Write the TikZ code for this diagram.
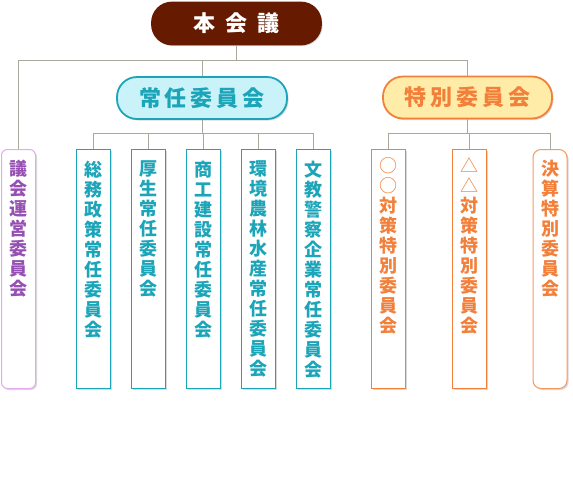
\documentclass[tikz,border=0pt]{standalone}
\usepackage{fontspec}
\newfontfamily\jp{Noto Sans CJK JP}
\usepackage{xcolor}
\usetikzlibrary{positioning, shadows}

\definecolor{honbrown}{RGB}{102,26,0}
\definecolor{linegray}{RGB}{170,168,155}
\definecolor{joninteal}{RGB}{28,165,185}
\definecolor{joninfill}{RGB}{202,242,249}
\definecolor{tokuorange}{RGB}{242,128,58}
\definecolor{tokufill}{RGB}{255,236,168}
\definecolor{giunpurple}{RGB}{150,80,180}
\definecolor{giunpink}{RGB}{226,172,236}

\tikzset{
  line/.style={draw=linegray, line width=0.9pt},
  pill/.style={rounded corners=20pt, line width=1.8pt, minimum height=42pt, minimum width=169pt, inner sep=0pt,
    font=\jp\bfseries\fontsize{22}{24}\selectfont,
    drop shadow={shadow xshift=1.5pt, shadow yshift=-1.5pt, opacity=0.15, fill=black}},
  tatebox/.style={draw, line width=1pt, fill=white, minimum width=34pt, minimum height=239pt, inner sep=0pt,
    drop shadow={shadow xshift=1.5pt, shadow yshift=-1.5pt, opacity=0.15, fill=black}},
  tatetext/.style={inner sep=0pt, align=center, font=\jp\bfseries\fontsize{18}{20}\selectfont},
}

\begin{document}
\begin{tikzpicture}[x=1pt, y=-1pt]

% marco de la figura
\useasboundingbox (0,0) rectangle (573,483);

% nodo superior y comites
\node[pill, fill=honbrown, draw=honbrown, text=white] (hon) at (236.5,23.5) {本\hspace{10pt}会\hspace{10pt}議};
\node[pill, fill=joninfill, draw=joninteal, text=joninteal, minimum width=170pt] (jonin) at (202,98) {常\hspace{4pt}任\hspace{4pt}委\hspace{4pt}員\hspace{4pt}会};
\node[pill, fill=tokufill, draw=tokuorange, text=tokuorange] (toku) at (467.5,97.5) {特\hspace{4pt}別\hspace{4pt}委\hspace{4pt}員\hspace{4pt}会};

% cajas verticales
\node[tatebox, draw=giunpink, rounded corners=6pt] (giun) at (18.5,269) {};
\node[tatebox, draw=joninteal] (j1) at (93,268.5) {};
\node[tatebox, draw=joninteal] (j2) at (148,268.5) {};
\node[tatebox, draw=joninteal] (j3) at (203,268.5) {};
\node[tatebox, draw=joninteal] (j4) at (258,268.5) {};
\node[tatebox, draw=joninteal] (j5) at (313,268.5) {};
\node[tatebox, draw=tokuorange] (t1) at (388.5,268.5) {};
\node[tatebox, draw=tokuorange] (t2) at (469.5,268.5) {};
\node[tatebox, draw=tokuorange!80, rounded corners=8pt] (t3) at (550,269) {};

% textos verticales
\node[tatetext, text=giunpurple, below=11pt of giun.north] (giuntxt) {議\\会\\運\\営\\委\\員\\会};
\node[tatetext, text=joninteal, below=12pt of j1.north] (j1txt) {総\\務\\政\\策\\常\\任\\委\\員\\会};
\node[tatetext, text=joninteal, below=12pt of j2.north] (j2txt) {厚\\生\\常\\任\\委\\員\\会};
\node[tatetext, text=joninteal, below=12pt of j3.north] (j3txt) {商\\工\\建\\設\\常\\任\\委\\員\\会};
\node[tatetext, text=joninteal, below=12pt of j4.north] (j4txt) {環\\境\\農\\林\\水\\産\\常\\任\\委\\員\\会};
\node[tatetext, text=joninteal, below=12pt of j5.north] (j5txt) {文\\教\\警\\察\\企\\業\\常\\任\\委\\員\\会};
\node[tatetext, text=tokuorange, below=9pt of t1.north] (t1txt) {{\mdseries ○}\\{\mdseries ○}\\対\\策\\特\\別\\委\\員\\会};
\node[tatetext, text=tokuorange, below=9pt of t2.north] (t2txt) {{\mdseries △}\\{\mdseries △}\\対\\策\\特\\別\\委\\員\\会};
\node[tatetext, text=tokuorange, below=11pt of t3.north] (t3txt) {決\\算\\特\\別\\委\\員\\会};

% lineas
\coordinate (bus) at (0,60);
\coordinate (bus2) at (0,133);
\draw[line] (hon.south) -- (hon.south |- bus);
\draw[line] (giun.north) |- (toku.north |- bus) -- (toku.north);
\draw[line] (jonin.north) -- (jonin.north |- bus);
\draw[line] (jonin.south) -- (jonin.south |- bus2);
\draw[line] (j1.north) |- (j5.north |- bus2) -- (j5.north);
\foreach \j in {j2,j3,j4}
  \draw[line] (\j.north) -- (\j.north |- bus2);
\draw[line] (toku.south) -- (toku.south |- bus2);
\draw[line] (t1.north) |- (t3.north |- bus2) -- (t3.north);
\draw[line] (t2.north) -- (t2.north |- bus2);

\end{tikzpicture}
\end{document}
